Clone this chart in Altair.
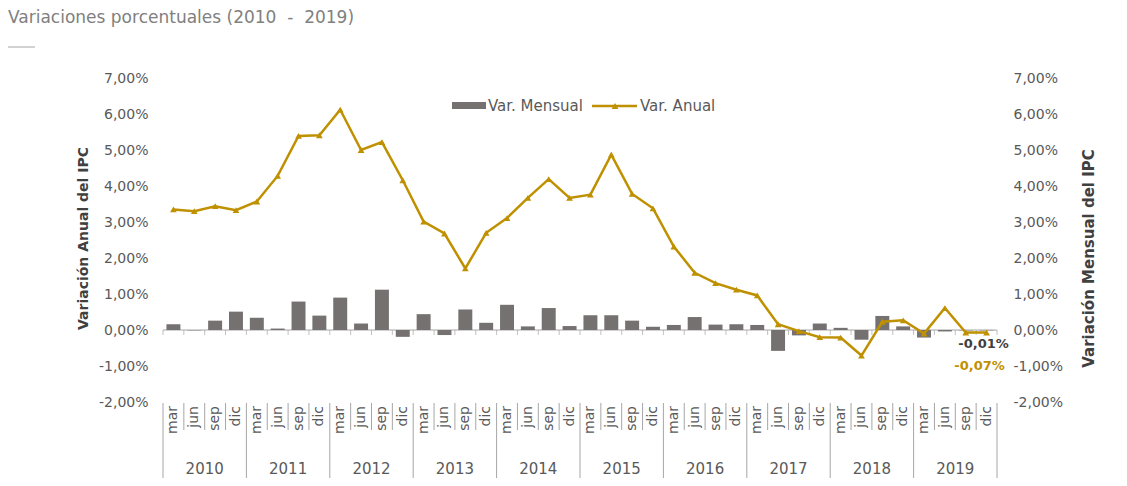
import altair as alt
import pandas as pd

# ---------------- data ----------------
anios = [str(y) for y in range(2010, 2020)]
meses = ["mar", "jun", "sep", "dic"]

anual = [3.35, 3.30, 3.44, 3.33, 3.57, 4.28, 5.39, 5.41, 6.12, 5.00,
         5.22, 4.16, 3.01, 2.68, 1.71, 2.70, 3.11, 3.67, 4.19, 3.67,
         3.76, 4.87, 3.78, 3.38, 2.32, 1.59, 1.30, 1.12, 0.96, 0.16,
         -0.03, -0.20, -0.21, -0.71, 0.23, 0.27, -0.10, 0.61, -0.07, -0.07]

mensual = [0.16, -0.01, 0.26, 0.51, 0.34, 0.04, 0.79, 0.40, 0.90, 0.18,
           1.12, -0.19, 0.44, -0.14, 0.57, 0.20, 0.70, 0.10, 0.61, 0.11,
           0.41, 0.41, 0.26, 0.09, 0.14, 0.36, 0.15, 0.16, 0.14, -0.58,
           -0.15, 0.18, 0.06, -0.27, 0.39, 0.10, -0.21, -0.04, -0.01, -0.01]

ticks_y = [-2, -1, 0, 1, 2, 3, 4, 5, 6, 7]

df = pd.DataFrame({
    "i": list(range(len(anual))),
    "mes": [meses[k % 4] for k in range(len(anual))],
    "anio": [anios[k // 4] for k in range(len(anual))],
    "anual": anual,
    "mensual": mensual,
})
df_bounds = pd.DataFrame({"b": list(range(len(anual) + 1))})
df_bounds["year"] = df_bounds["b"] % 4 == 0
df_years = pd.DataFrame({"anio": anios, "pos": [k * 4 + 2 for k in range(len(anios))]})
one = pd.DataFrame({"k": [0]})

# ---------------- style ----------------
W, H = 834, 324
GOLD = "#BF9000"
BAR = "#767171"
TXT = "#595959"
DARK = "#404040"
LINE = "#A6A6A6"
FONT = "DejaVu Sans"

xs = alt.Scale(domain=[0, 40], nice=False, zero=False)
ys = alt.Scale(domain=[-2, 7], nice=False)
pct = "replace(replace(format({f}, '.2f'), '.', ','), '\u2212', '-') + '%'"
lab = pct.format(f="datum.value")

base = alt.Chart(df).transform_calculate(
    xc="datum.i + 0.5", x0="datum.i + 0.165", x1="datum.i + 0.835"
)

# ---- zero line with category ticks ----
zero_line = alt.Chart(one).mark_rule(color=LINE, strokeWidth=1).encode(
    x=alt.XDatum(0, scale=xs, axis=None),
    x2=alt.X2Datum(40),
    y=alt.YDatum(0, scale=ys, axis=None),
)
zero_ticks = alt.Chart(df_bounds).mark_tick(
    color=LINE, orient="vertical", size=5, thickness=1, yOffset=2.5
).encode(
    x=alt.X("b:Q", scale=xs, axis=None),
    y=alt.YDatum(0, scale=ys, axis=None),
)

# ---- monthly bars (right axis) ----
bars = base.mark_rect(color=BAR).encode(
    x=alt.X("x0:Q", scale=xs, axis=None),
    x2="x1:Q",
    y=alt.Y("mensual:Q", scale=ys, axis=alt.Axis(
        orient="right", values=ticks_y, labelExpr=lab,
        title="Variación Mensual del IPC", ticks=False, domain=False,
        grid=False, labelPadding=16, labelFont=FONT, labelFontSize=14,
        labelColor=TXT, titleFont=FONT, titleFontSize=15,
        titleFontWeight="bold", titleColor=DARK, titleX=91, titleY=180,
        titleAngle=270, titleAlign="center", titleBaseline="middle")),
    y2=alt.datum(0),
)
bar_lbl = base.transform_filter("datum.i == 39").transform_calculate(
    t=pct.format(f="datum.mensual")
).mark_text(font=FONT, fontSize=13, fontWeight="bold", color=DARK, dx=-3, dy=14).encode(
    x=alt.X("xc:Q", scale=xs, axis=None),
    y=alt.Y("mensual:Q", scale=ys, axis=None),
    text="t:N",
)

# ---- annual line (left axis) ----
line = base.mark_line(color=GOLD, strokeWidth=2.5).encode(
    x=alt.X("xc:Q", scale=xs, axis=None),
    y=alt.Y("anual:Q", scale=ys, axis=alt.Axis(
        orient="left", values=ticks_y, labelExpr=lab,
        title="Variación Anual del IPC", ticks=False, domain=False,
        grid=False, labelPadding=15, labelFont=FONT, labelFontSize=14,
        labelColor=TXT, titleFont=FONT, titleFontSize=14,
        titleFontWeight="bold", titleColor=DARK, titleX=-80, titleY=160,
        titleAngle=270, titleAlign="center", titleBaseline="middle")),
)
pts = base.mark_point(shape="triangle-up", filled=True, color=GOLD, size=45, opacity=1).encode(
    x=alt.X("xc:Q", scale=xs, axis=None),
    y=alt.Y("anual:Q", scale=ys, axis=None),
)
line_lbl = base.transform_filter("datum.i == 39").transform_calculate(
    t=pct.format(f="datum.anual")
).mark_text(font=FONT, fontSize=13, fontWeight="bold", color=GOLD, dx=-7, dy=33).encode(
    x=alt.X("xc:Q", scale=xs, axis=None),
    y=alt.Y("anual:Q", scale=ys, axis=None),
    text="t:N",
)

# ---- category axis (months / years) ----
month_txt = base.mark_text(font=FONT, fontSize=14, color=TXT, angle=270,
                           align="right", baseline="middle").encode(
    x=alt.X("xc:Q", scale=xs, axis=None), y=alt.value(H + 4), text="mes:N")
sep_short = alt.Chart(df_bounds).transform_filter("!datum.year").mark_rule(
    color=LINE, strokeWidth=1).encode(
    x=alt.X("b:Q", scale=xs, axis=None), y=alt.value(H + 1), y2=alt.value(H + 28))
sep_long = alt.Chart(df_bounds).transform_filter("datum.year").mark_rule(
    color=LINE, strokeWidth=1).encode(
    x=alt.X("b:Q", scale=xs, axis=None), y=alt.value(H + 1), y2=alt.value(H + 76))
year_txt = alt.Chart(df_years).mark_text(font=FONT, fontSize=15, color=TXT,
                                         baseline="middle").encode(
    x=alt.X("pos:Q", scale=xs, axis=None), y=alt.value(H + 67), text="anio:N")

# ---- legend ----
lg_rect = alt.Chart(one).mark_rect(color=BAR).encode(
    x=alt.value(289), x2=alt.value(323), y=alt.value(24), y2=alt.value(31))
lg_t1 = alt.Chart(one).mark_text(font=FONT, fontSize=15, color=TXT, align="left",
                                 baseline="middle").encode(
    x=alt.value(325), y=alt.value(28), text=alt.value("Var. Mensual"))
lg_line = alt.Chart(one).mark_rule(color=GOLD, strokeWidth=2.5).encode(
    x=alt.value(429), x2=alt.value(474), y=alt.value(28))
lg_pt = alt.Chart(one).mark_point(shape="triangle-up", filled=True, color=GOLD,
                                  size=45, opacity=1).encode(
    x=alt.value(452), y=alt.value(28))
lg_t2 = alt.Chart(one).mark_text(font=FONT, fontSize=15, color=TXT, align="left",
                                 baseline="middle").encode(
    x=alt.value(477), y=alt.value(28), text=alt.value("Var. Anual"))

# ---- title ----
title_txt = alt.Chart(one).mark_text(font=FONT, fontSize=17, color="#808080",
                                     align="left", baseline="middle").encode(
    x=alt.value(-155), y=alt.value(-60),
    text=alt.value("Variaciones porcentuales (2010\u00a0\u00a0-\u00a0\u00a02019)"))
title_rule = alt.Chart(one).mark_rule(color=LINE, strokeWidth=1).encode(
    x=alt.value(-155), x2=alt.value(-128), y=alt.value(-31))

chart = alt.layer(
    zero_line, zero_ticks, bars, bar_lbl, line, pts, line_lbl,
    month_txt, sep_short, sep_long, year_txt,
    lg_rect, lg_t1, lg_line, lg_pt, lg_t2, title_txt, title_rule,
).resolve_axis(y="independent").properties(
    width=W, height=H,
    padding={"left": 155, "top": 70, "right": 115, "bottom": 76},
    autosize=alt.AutoSizeParams(type="none"),
    background="white",
).configure_view(stroke=None)

chart.save("out.html", embed_options={"renderer": "svg", "actions": False})
